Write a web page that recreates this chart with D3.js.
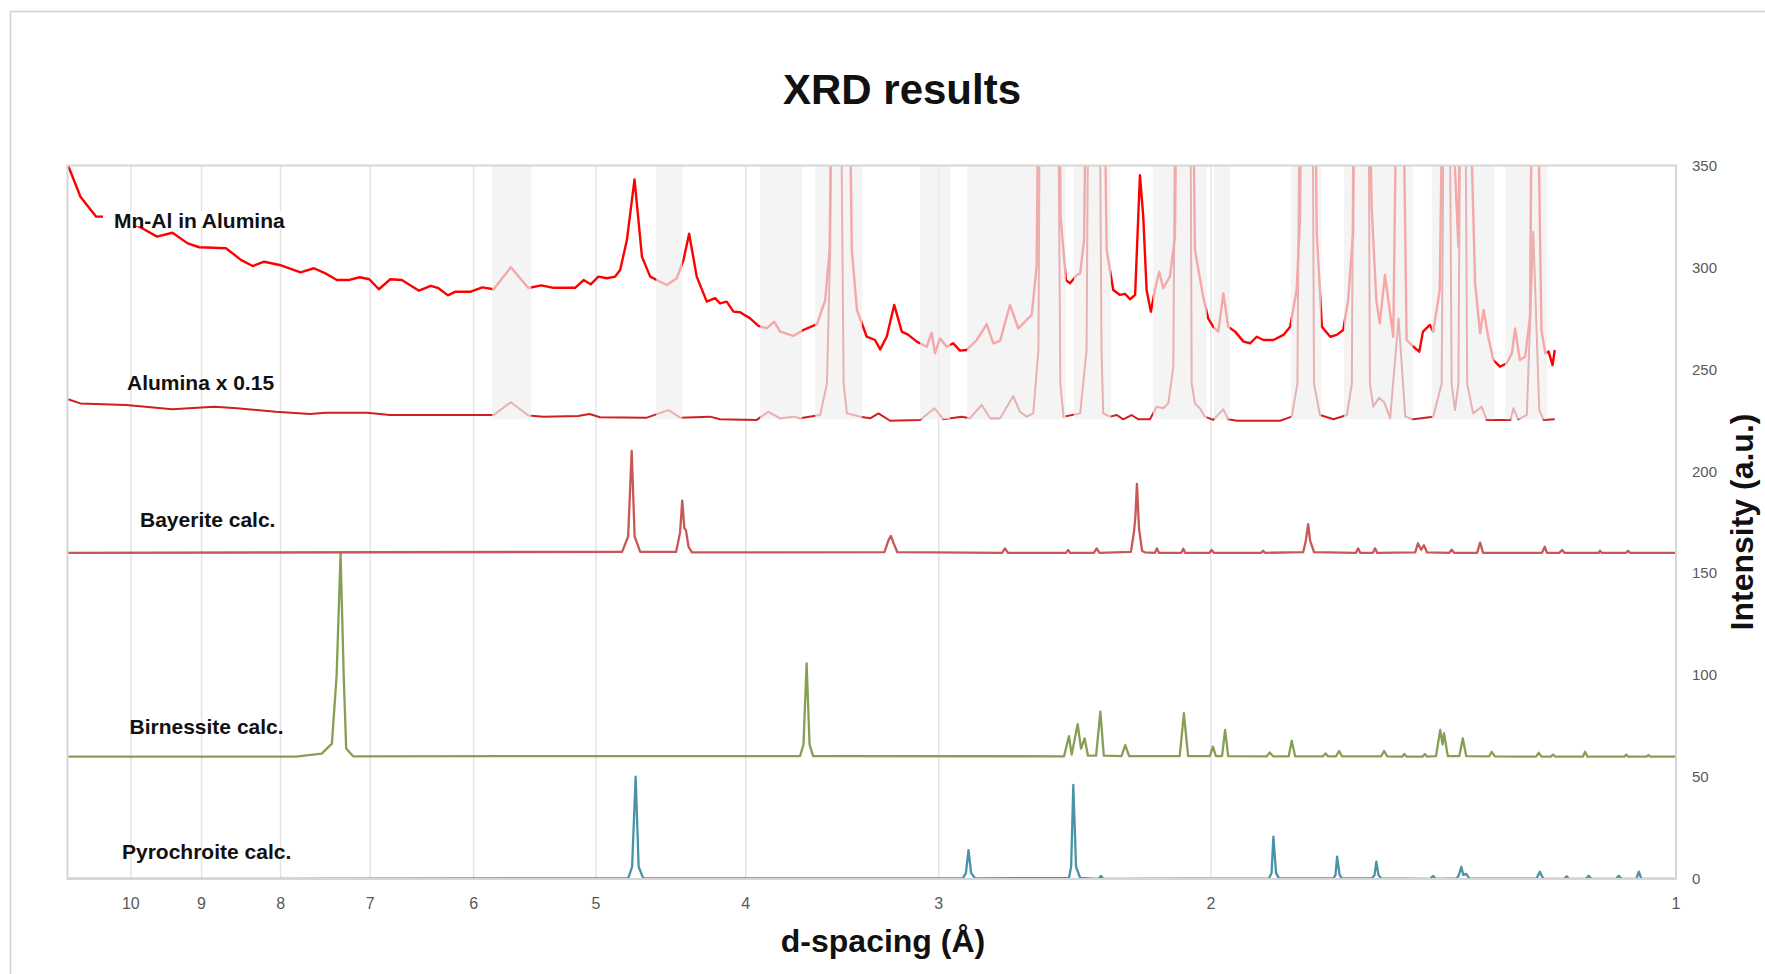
<!DOCTYPE html>
<html>
<head>
<meta charset="utf-8">
<script src="https://cdn.jsdelivr.net/npm/d3@7/dist/d3.min.js"></script>
<style>
  html, body { margin: 0; padding: 0; background: #fff; }
  svg { display: block; font-family: "Liberation Sans", Arial, sans-serif; }
</style>
</head>
<body>
<svg id="chart"></svg>
<script>
// XRD results - stacked diffraction traces vs d-spacing (log axis, reversed)

// d-spacing ticks (Angstrom) and intensity ticks
const xTicks = [10, 9, 8, 7, 6, 5, 4, 3, 2, 1];
const yTicks = [0, 50, 100, 150, 200, 250, 300, 350];

// measured: Mn-Al in Alumina  [d, intensity]  (values > 350 run off the top)
const mnAl = [
  [10.98, 350], [10.78, 334.7], [10.53, 324.9], [10.42, 324.9], [10.16, 322.3], [9.893, 320.3],
  [9.616, 315.1], [9.399, 317.0], [9.188, 311.8], [9.031, 309.9], [8.679, 309.4], [8.483, 303.6],
  [8.339, 300.7], [8.198, 302.8], [8.012, 301.2], [7.765, 297.6], [7.612, 299.6], [7.483, 297.1],
  [7.356, 293.8], [7.232, 293.8], [7.110, 295.2], [7.009, 294.2], [6.910, 289.3], [6.793, 294.2],
  [6.678, 293.8], [6.509, 288.6], [6.396, 291.0], [6.323, 289.8], [6.234, 286.3], [6.164, 288.1],
  [6.025, 288.1], [5.923, 290.2], [5.824, 289.3], [5.676, 300.1], [5.530, 289.9], [5.425, 291.2],
  [5.327, 290.0], [5.158, 290.0], [5.093, 293.8], [5.040, 291.7], [4.982, 295.5], [4.920, 294.7],
  [4.859, 295.5], [4.823, 298.7], [4.775, 313.4], [4.721, 343.2], [4.669, 305.3], [4.612, 295.5],
  [4.544, 293.0], [4.499, 291.4], [4.433, 294.7], [4.389, 303.6], [4.352, 316.5], [4.303, 295.5],
  [4.239, 283.2], [4.187, 284.9], [4.156, 282.4], [4.115, 283.2], [4.074, 278.3], [4.034, 278.0],
  [3.974, 275.0], [3.925, 271.3], [3.876, 270.1], [3.834, 273.4], [3.800, 268.5], [3.726, 266.4],
  [3.671, 269.3], [3.597, 272.2], [3.553, 284.0], [3.530, 308.5], [3.506, 520], [3.474, 380],
  [3.444, 520], [3.415, 308.5], [3.389, 279.1], [3.340, 266.0], [3.299, 264.4], [3.274, 259.8],
  [3.242, 266.0], [3.206, 281.6], [3.170, 268.5], [3.139, 266.9], [3.100, 263.6], [3.054, 261.1],
  [3.032, 268.0], [3.017, 257.9], [2.995, 265.2], [2.965, 261.1], [2.936, 262.8], [2.907, 259.2],
  [2.878, 259.5], [2.835, 264.4], [2.793, 272.2], [2.766, 262.8], [2.738, 264.0], [2.698, 281.6],
  [2.665, 270.1], [2.632, 274.2], [2.612, 276.7], [2.593, 300.4], [2.576, 520], [2.542, 380],
  [2.515, 520], [2.502, 324.9], [2.482, 293.8], [2.467, 292.2], [2.442, 296.3], [2.430, 297.1],
  [2.416, 313.4], [2.398, 520], [2.377, 380], [2.356, 520], [2.336, 308.5], [2.313, 288.9],
  [2.290, 286.5], [2.273, 287.0], [2.256, 284.4], [2.239, 286.5], [2.223, 345.3], [2.212, 324.9],
  [2.201, 288.9], [2.187, 278.3], [2.174, 288.9], [2.160, 297.9], [2.147, 289.8], [2.126, 295.5],
  [2.110, 315.0], [2.097, 520], [2.082, 380], [2.063, 520], [2.048, 308.5], [2.023, 285.6],
  [2.008, 275.0], [1.993, 270.9], [1.978, 268.5], [1.963, 287.3], [1.949, 270.9], [1.929, 268.5],
  [1.905, 263.6], [1.886, 262.8], [1.868, 266.0], [1.849, 264.4], [1.822, 264.4], [1.795, 266.9],
  [1.777, 270.9], [1.760, 288.9], [1.751, 324.9], [1.743, 520], [1.730, 380], [1.720, 520],
  [1.708, 316.7], [1.695, 270.9], [1.674, 266.0], [1.658, 266.9], [1.642, 269.3], [1.630, 284.0],
  [1.618, 316.7], [1.609, 520], [1.599, 380], [1.588, 520], [1.574, 330], [1.563, 284.0],
  [1.555, 272.6], [1.543, 296.3], [1.524, 266.0], [1.509, 520], [1.494, 264.4], [1.479, 261.1],
  [1.466, 258.7], [1.458, 268.5], [1.443, 271.8], [1.436, 268.5], [1.422, 288.9], [1.409, 520],
  [1.396, 380], [1.383, 310], [1.374, 520], [1.349, 292.2], [1.339, 267.7], [1.332, 279.1],
  [1.323, 266.0], [1.313, 254.6], [1.300, 251.3], [1.287, 253.0], [1.277, 257.9], [1.271, 270.1],
  [1.262, 254.6], [1.252, 256.2], [1.243, 275.8], [1.236, 520], [1.222, 269.3], [1.215, 257.9],
  [1.209, 258.7], [1.202, 252.1], [1.198, 259.5]
];

// measured: Alumina x 0.15 (offset)
const alumina = [
  [10.98, 235.3], [10.78, 233.3], [10.07, 232.5], [9.402, 230.4], [8.832, 231.7], [8.535, 230.9],
  [8.059, 229.2], [7.655, 228.1], [7.486, 228.7], [7.033, 228.7], [6.797, 227.6], [5.943, 227.6],
  [5.824, 227.6], [5.676, 233.9], [5.530, 227.4], [5.406, 226.8], [5.135, 227.1], [5.048, 228.1],
  [4.970, 226.5], [4.635, 226.3], [4.488, 230.0], [4.411, 226.3], [4.218, 226.8], [4.156, 225.5],
  [3.935, 225.2], [3.867, 229.2], [3.800, 226.0], [3.726, 226.8], [3.689, 226.0], [3.580, 227.6],
  [3.544, 243.0], [3.527, 308.5], [3.495, 650], [3.457, 243.0], [3.440, 228.4], [3.373, 226.8],
  [3.323, 226.0], [3.282, 228.4], [3.226, 224.8], [3.085, 225.2], [3.019, 230.9], [2.979, 225.5],
  [2.899, 226.8], [2.864, 226.0], [2.814, 232.5], [2.779, 226.0], [2.738, 226.0], [2.685, 236.9],
  [2.658, 229.2], [2.632, 226.8], [2.606, 228.4], [2.586, 259.5], [2.572, 600], [2.542, 380],
  [2.522, 600], [2.503, 243.0], [2.491, 226.8], [2.430, 228.4], [2.407, 259.5], [2.391, 600],
  [2.377, 380], [2.370, 600], [2.354, 259.5], [2.348, 228.4], [2.324, 226.8], [2.301, 227.6],
  [2.279, 225.5], [2.251, 227.6], [2.228, 225.5], [2.190, 225.5], [2.168, 231.7], [2.147, 230.9],
  [2.131, 233.3], [2.115, 251.3], [2.101, 600], [2.083, 380], [2.067, 600], [2.058, 243.0],
  [2.048, 233.3], [2.033, 230.9], [2.018, 226.8], [1.993, 225.2], [1.963, 230.4], [1.949, 225.5],
  [1.924, 224.8], [1.804, 224.8], [1.773, 226.8], [1.758, 243.0], [1.745, 600], [1.733, 380],
  [1.724, 600], [1.715, 243.0], [1.700, 227.6], [1.666, 225.5], [1.633, 227.6], [1.621, 243.0],
  [1.612, 600], [1.604, 380], [1.597, 600], [1.591, 380], [1.585, 600], [1.578, 243.0],
  [1.570, 231.7], [1.557, 236.0], [1.545, 234.0], [1.531, 226.0], [1.512, 275.0], [1.497, 226.8],
  [1.479, 225.5], [1.436, 226.8], [1.418, 243.0], [1.407, 600], [1.397, 243.0], [1.390, 230.0],
  [1.383, 243.0], [1.374, 600], [1.365, 243.0], [1.353, 228.4], [1.336, 231.7], [1.326, 225.2],
  [1.280, 225.2], [1.274, 230.9], [1.265, 225.5], [1.249, 227.6], [1.237, 317.5], [1.226, 230.0],
  [1.218, 225.2], [1.198, 225.5]
];

// calculated patterns (offset baselines 160 / 60 / 0)
const bayerite = [
  [10.98, 160], [4.809, 160.5], [4.766, 168], [4.741, 210], [4.720, 168], [4.681, 160.5],
  [4.437, 160.5], [4.411, 170], [4.397, 185.6], [4.383, 172], [4.373, 171.2], [4.356, 163], [4.334, 160.2],
  [3.253, 160.3], [3.234, 166], [3.222, 168.3], [3.210, 165], [3.191, 160.3],
  [2.730, 160], [2.718, 162.2], [2.706, 160], [2.482, 160], [2.474, 161.4], [2.467, 160],
  [2.381, 160], [2.371, 162.2], [2.361, 160],
  [2.253, 160.5], [2.243, 170], [2.238, 177.7], [2.233, 193.8], [2.226, 172], [2.216, 161], [2.206, 160.2],
  [2.174, 160], [2.167, 162.2], [2.161, 160], [2.090, 160], [2.084, 162], [2.078, 160],
  [2.004, 160], [1.998, 161.4], [1.991, 160], [1.856, 160], [1.850, 161], [1.845, 160],
  [1.743, 160.3], [1.736, 166], [1.730, 174.1], [1.725, 166], [1.715, 160.3],
  [1.611, 160], [1.606, 162.2], [1.601, 160], [1.571, 160], [1.566, 162.2], [1.561, 160],
  [1.475, 160.2], [1.469, 164.7], [1.462, 161.5], [1.456, 163.7], [1.449, 160.2],
  [1.402, 160], [1.397, 161.5], [1.392, 160], [1.345, 160], [1.339, 165], [1.333, 160],
  [1.221, 160], [1.216, 163], [1.212, 160], [1.190, 160], [1.185, 161.4], [1.181, 160],
  [1.122, 160], [1.120, 161], [1.117, 160], [1.077, 160], [1.074, 161], [1.071, 160], [1.0, 160]
];

const birnessite = [
  [10.98, 60], [7.821, 60], [7.525, 61.5], [7.411, 66.4], [7.359, 100], [7.316, 159.5],
  [7.282, 100], [7.255, 64], [7.180, 60.2],
  [3.689, 60.3], [3.670, 66], [3.653, 105.8], [3.637, 66], [3.618, 60.3],
  [2.489, 60.2], [2.471, 70.1], [2.461, 61], [2.439, 76], [2.427, 64], [2.414, 69], [2.402, 60.5],
  [2.373, 60.5], [2.358, 82.1], [2.346, 60.5], [2.285, 60.3], [2.272, 65.7], [2.259, 60.3],
  [2.095, 60.3], [2.082, 81.3], [2.069, 60.3], [2.003, 60.3], [1.994, 64.9], [1.985, 60.3],
  [1.967, 60.3], [1.958, 73.1], [1.949, 60.3], [1.840, 60.2], [1.832, 62.1], [1.823, 60.2],
  [1.781, 60.2], [1.773, 67.8], [1.764, 60.2], [1.692, 60.2], [1.686, 61.6], [1.680, 60.2],
  [1.660, 60.2], [1.652, 62.8], [1.645, 60.2], [1.552, 60.2], [1.545, 62.8], [1.538, 60.2],
  [1.504, 60], [1.499, 61.3], [1.494, 60], [1.459, 60], [1.454, 61.3], [1.449, 60],
  [1.430, 60.3], [1.421, 73.1], [1.416, 66], [1.413, 71.5], [1.405, 60.3],
  [1.381, 60.3], [1.374, 69], [1.367, 60.3], [1.321, 60.2], [1.316, 62.4], [1.310, 60.2],
  [1.232, 60], [1.227, 61.9], [1.222, 60], [1.205, 60], [1.201, 61], [1.197, 60],
  [1.149, 60], [1.145, 62.4], [1.141, 60], [1.080, 60], [1.077, 61], [1.074, 60],
  [1.045, 60], [1.042, 60.8], [1.039, 60], [1.0, 60]
];

const pyrochroite = [
  [10.98, 0], [4.766, 0.3], [4.738, 6], [4.713, 50.2], [4.692, 6], [4.660, 0.3],
  [2.894, 0.3], [2.881, 3], [2.870, 14.2], [2.859, 3], [2.842, 0.3],
  [2.471, 0.5], [2.463, 6], [2.455, 46.1], [2.445, 6], [2.430, 0.5],
  [2.365, 0], [2.356, 1.5], [2.347, 0],
  [1.834, 0.3], [1.827, 3], [1.822, 20.8], [1.815, 3], [1.807, 0.3],
  [1.666, 0.3], [1.661, 2], [1.657, 11], [1.651, 2], [1.645, 0.3],
  [1.573, 0.3], [1.567, 2], [1.563, 8.5], [1.558, 2], [1.552, 0.3],
  [1.443, 0], [1.436, 1.5], [1.430, 0],
  [1.386, 0.3], [1.382, 2], [1.377, 6], [1.373, 2], [1.367, 2.5], [1.361, 0.3],
  [1.231, 0.2], [1.225, 3.6], [1.219, 0.2], [1.181, 0], [1.177, 1.3], [1.173, 0],
  [1.144, 0], [1.139, 1.6], [1.134, 0], [1.094, 0], [1.089, 1.6], [1.084, 0],
  [1.061, 0], [1.057, 3.6], [1.053, 0], [1.0, 0]
];

// shaded d-ranges over the measured traces [dStart, dEnd]
const bands = [
  [5.837, 5.507], [4.571, 4.397], [3.915, 3.678], [3.607, 3.363], [3.085, 2.950],
  [2.876, 2.482], [2.453, 2.321], [2.180, 2.012], [1.991, 1.944], [1.775, 1.697],
  [1.640, 1.480], [1.439, 1.311], [1.290, 1.212]
];
const bandRange = [225.5, 350];

const seriesNames = ["Mn-Al in Alumina", "Alumina x 0.15", "Bayerite calc.", "Birnessite calc.", "Pyrochroite calc."];
const seriesColors = ["#ff0000", "#cf2020", "#c0413f", "#76923c", "#31849b"];
// label anchors in pixels [left, baseline]
const labelPos = [[114, 228.2], [127, 390.4], [140, 527.3], [129.5, 734.3], [122, 858.6]];

// 0. Setup
const W = 1765, H = 974;
const svg = d3.select("#chart").attr("width", W).attr("height", H);

const plot = {left: 67.5, right: 1676, top: 165.5, bottom: 879};

const x = d3.scaleLog().domain([10.99, 1]).range([plot.left, plot.right]);
const y = d3.scaleLinear().domain([0, 350]).range([plot.bottom, plot.top]);

// outer chart frame (right/bottom edges fall outside the picture)
svg.append("rect")
    .attr("x", 10.5).attr("y", 11.5)
    .attr("width", W + 20).attr("height", H + 20)
    .attr("fill", "none").attr("stroke", "#d0d0d0").attr("stroke-width", 1.5);

svg.append("defs").append("clipPath").attr("id", "plotClip")
  .append("rect")
    .attr("x", plot.left).attr("y", plot.top)
    .attr("width", plot.right - plot.left).attr("height", plot.bottom - plot.top);

// 1. Gridlines
svg.append("g").attr("class", "grid")
  .selectAll("line")
  .data(xTicks.filter(d => d > 1))
  .join("line")
    .attr("x1", d => x(d)).attr("x2", d => x(d))
    .attr("y1", plot.top).attr("y2", plot.bottom)
    .attr("stroke", "#e4e4e4").attr("stroke-width", 1.5);

// 2. Traces
const line = d3.line().x(d => x(d[0])).y(d => y(d[1]));
const traces = svg.append("g").attr("clip-path", "url(#plotClip)");
const allSeries = [mnAl, alumina, bayerite, birnessite, pyrochroite];
const widths = [2.4, 2, 2.3, 2.3, 2.3];

// calc patterns first, measured on top
[4, 3, 2, 1, 0].forEach(i => {
  traces.append("path")
      .datum(allSeries[i])
      .attr("d", line)
      .attr("fill", "none")
      .attr("stroke", seriesColors[i])
      .attr("stroke-width", widths[i])
      .attr("stroke-linejoin", "round")
      .attr("stroke-opacity", i < 2 ? 1 : 0.88);
});

// 3. Shaded bands (drawn over the measured traces so they fade inside)
traces.append("g")
  .selectAll("rect")
  .data(bands)
  .join("rect")
    .attr("x", d => x(d[0]))
    .attr("width", d => x(d[1]) - x(d[0]))
    .attr("y", y(bandRange[1]))
    .attr("height", y(bandRange[0]) - y(bandRange[1]))
    .attr("fill", "#f0f0f0")
    .attr("fill-opacity", 0.7);

// plot area border
svg.append("rect")
    .attr("x", plot.left).attr("y", plot.top)
    .attr("width", plot.right - plot.left).attr("height", plot.bottom - plot.top)
    .attr("fill", "none").attr("stroke", "#d6d6d6").attr("stroke-width", 2);

// 4. Series labels
const labels = svg.append("g")
    .style("font-size", "21px").style("font-weight", "bold").attr("fill", "#111");

labels.selectAll("text")
  .data(seriesNames)
  .join("text")
    .attr("x", (d, i) => labelPos[i][0])
    .attr("y", (d, i) => labelPos[i][1])
    .text(d => d)
    .each(function(d, i) {
        // Mn-Al label sits on the trace: white box behind it
        if (i !== 0) return;
        const b = this.getBBox();
        labels.insert("rect", "text")
            .attr("x", b.x - 11).attr("y", b.y + 2)
            .attr("width", b.width + 14).attr("height", b.height - 8)
            .attr("fill", "#fff");
    });

// 5. Axes
svg.append("g")
  .selectAll("text")
  .data(yTicks)
  .join("text")
    .attr("x", 1692)
    .attr("y", d => y(d))
    .attr("dy", "0.35em")
    .style("font-size", "15px")
    .attr("fill", "#595959")
    .text(d => d);

svg.append("g")
  .selectAll("text")
  .data(xTicks)
  .join("text")
    .attr("x", d => x(d))
    .attr("y", 909)
    .attr("text-anchor", "middle")
    .style("font-size", "16px")
    .attr("fill", "#595959")
    .text(d => d);

svg.append("text")
    .attr("x", 883).attr("y", 952)
    .attr("text-anchor", "middle")
    .style("font-size", "32px").style("font-weight", "bold")
    .attr("fill", "#111")
    .text("d-spacing (Å)");

svg.append("text")
    .attr("transform", "translate(1742,522) rotate(-90)")
    .attr("text-anchor", "middle")
    .attr("dy", "0.35em")
    .style("font-size", "32px").style("font-weight", "bold")
    .attr("fill", "#111")
    .text("Intensity (a.u.)");

// title
svg.append("text")
    .attr("x", 902).attr("y", 104)
    .attr("text-anchor", "middle")
    .style("font-size", "42px").style("font-weight", "bold")
    .attr("fill", "#111")
    .text("XRD results");
</script>
</body>
</html>
